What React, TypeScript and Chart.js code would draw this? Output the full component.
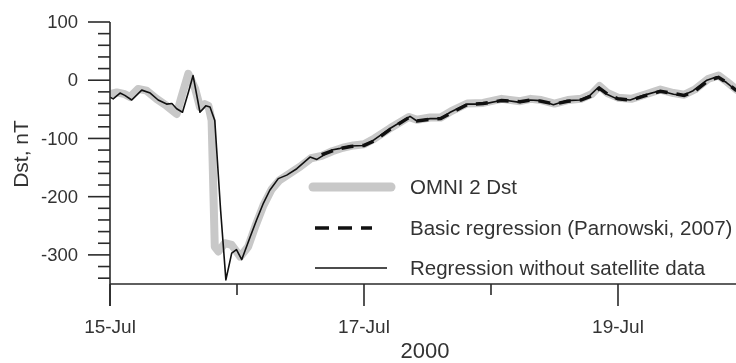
import React, { useEffect, useRef } from "react";
import { Chart, registerables } from "chart.js";

Chart.register(...registerables);

// Hours since 15-Jul-2000 00:00 and Dst values (nT)
const omniHours = [0, 1.3, 2.8, 3.8, 5.3, 6.9, 8.8, 10.7, 12.6, 13.5, 14.8, 16.1, 17, 17.9, 18.6, 19.2, 19.8, 20.5, 21.7, 23, 24.6, 26.1, 27.5, 29, 30.5, 32, 34, 36, 38, 40, 42, 44, 46, 48, 50, 53, 56.5, 58, 60.5, 62.5, 64.5, 67.5, 70.5, 74, 77.5, 79.5, 81.5, 84, 86.5, 89, 91, 92.5, 94, 96, 98.5, 101, 104, 106.5, 108.5, 110.5, 113, 115, 116.5, 118.4];
const omniDst = [-24, -21, -24, -29, -15, -18, -32, -44, -58, -29, 11, -15, -46, -41, -44, -69, -286, -294, -280, -283, -303, -286, -250, -215, -188, -172, -160, -148, -134, -130, -122, -116, -112, -110, -100, -82, -63, -68, -64, -64, -53, -40, -39, -32, -36, -32, -34, -40, -34, -32, -24, -10, -22, -30, -32, -25, -16, -22, -25, -16, 2, 8, -2, -16];

const basicHours = [40, 43, 45.5, 48, 50, 53, 56.5, 58, 60.5, 62.5, 64.5, 67.5, 70.5, 74, 77.5, 79.5, 81.5, 84, 86.5, 89, 91, 92.5, 94, 96, 98.5, 101, 104, 106.5, 108.5, 110.5, 113, 115, 116.5, 118.4];
const basicDst = [-128, -118, -114, -112, -104, -84, -64, -70, -67, -66, -56, -42, -40, -35, -37, -34, -36, -41, -36, -34, -27, -14, -24, -32, -34, -27, -19, -23, -26, -19, -1, 5, -4, -18];

const noSatHours = [0, 0.6, 1.9, 2.8, 4.1, 6, 7.6, 9.1, 10.7, 11.7, 12.6, 13.7, 14.8, 15.7, 17, 18.1, 18.9, 19.8, 20.9, 21.9, 23, 23.9, 24.9, 26.5, 27.7, 29, 30.2, 31.8, 33.4, 35.3, 37.8, 39.1, 40.3, 41.9, 43.5, 45.4, 47.9, 49.8, 52.9, 56.7, 58, 60.5, 62.4, 64.3, 67.4, 70.5, 74.3, 77.5, 79.4, 81.3, 83.8, 86.3, 88.8, 90.7, 92.3, 93.9, 95.8, 98.3, 100.8, 103.9, 106.5, 108.3, 110.2, 112.8, 114.7, 116.5, 118.4];
const noSatDst = [-29, -32, -22, -26, -34, -17, -22, -34, -41, -40, -49, -55, -21, 8, -55, -44, -46, -69, -223, -343, -297, -291, -308, -269, -240, -211, -189, -169, -163, -152, -132, -136, -129, -120, -117, -113, -112, -103, -83, -62, -70, -66, -66, -55, -41, -41, -34, -38, -34, -35, -42, -35, -34, -26, -12, -24, -32, -34, -26, -18, -24, -26, -18, 0, 6, -4, -18];

const seriesNames = ["OMNI 2 Dst", "Basic regression (Parnowski, 2007)", "Regression without satellite data"];

const xMajorTicks = [0, 48, 96];
const xMajorLabels = ["15-Jul", "17-Jul", "19-Jul"];
const xMinorTicks = [24, 72];
const yMajorTicks = [100, 0, -100, -200, -300];
const yMinorTicks = [80, 60, 40, 20, -20, -40, -60, -80, -120, -140, -160, -180, -220, -240, -260, -280, -320, -340];
const xTitle = "2000";
const yTitle = "Dst, nT";

const FONT = "'Liberation Sans', Arial, sans-serif";

const axesPlugin = {
  id: "axesAndLegend",
  afterDatasetsDraw(chart: any) {
    const ctx = chart.ctx as CanvasRenderingContext2D;
    const xs = chart.scales.x;
    const ys = chart.scales.y;
    const area = chart.chartArea;
    const axisColor = "#2a2a2a";
    const textColor = "#333";
    ctx.save();
    ctx.strokeStyle = axisColor;
    ctx.lineWidth = 1.6;
    ctx.lineCap = "butt";
    const x0 = xs.getPixelForValue(0);
    const yb = area.bottom;
    ctx.beginPath();
    ctx.moveTo(x0, ys.getPixelForValue(100));
    ctx.lineTo(x0, yb + 22);
    ctx.stroke();
    ctx.beginPath();
    ctx.moveTo(x0, yb);
    ctx.lineTo(area.right, yb);
    ctx.stroke();
    xMajorTicks.forEach((v) => {
      const px = xs.getPixelForValue(v);
      ctx.beginPath();
      ctx.moveTo(px, yb);
      ctx.lineTo(px, yb + 22);
      ctx.stroke();
    });
    xMinorTicks.forEach((v) => {
      const px = xs.getPixelForValue(v);
      ctx.beginPath();
      ctx.moveTo(px, yb);
      ctx.lineTo(px, yb + 11);
      ctx.stroke();
    });
    yMajorTicks.forEach((v) => {
      const py = ys.getPixelForValue(v);
      ctx.beginPath();
      ctx.moveTo(x0 - 22, py);
      ctx.lineTo(x0, py);
      ctx.stroke();
    });
    yMinorTicks.forEach((v) => {
      const py = ys.getPixelForValue(v);
      ctx.beginPath();
      ctx.moveTo(x0 - 12, py);
      ctx.lineTo(x0, py);
      ctx.stroke();
    });
    ctx.fillStyle = textColor;
    ctx.font = `18.5px ${FONT}`;
    ctx.textAlign = "right";
    ctx.textBaseline = "middle";
    yMajorTicks.forEach((v) => {
      ctx.fillText(String(v), 78, ys.getPixelForValue(v) + 1);
    });
    ctx.font = `19px ${FONT}`;
    ctx.textAlign = "center";
    xMajorTicks.forEach((v, i) => {
      ctx.fillText(xMajorLabels[i], xs.getPixelForValue(v), 328);
    });
    ctx.font = `22px ${FONT}`;
    ctx.fillText(xTitle, (area.left + area.right) / 2 + 2, 352);
    ctx.save();
    ctx.translate(22, 154);
    ctx.rotate(-Math.PI / 2);
    ctx.font = `21px ${FONT}`;
    ctx.fillText(yTitle, 0, 0);
    ctx.restore();

    const rows = [187, 228, 268];
    const samples = [
      [313, 391],
      [315, 372],
      [315, 387],
    ];
    chart.data.datasets.forEach((ds: any, i: number) => {
      ctx.save();
      ctx.strokeStyle = ds.borderColor;
      ctx.lineWidth = i === 0 ? 9 : ds.borderWidth;
      ctx.lineCap = i === 0 ? "round" : "butt";
      ctx.setLineDash(i === 1 ? [14, 9] : []);
      ctx.beginPath();
      ctx.moveTo(samples[i][0], rows[i]);
      ctx.lineTo(samples[i][1], rows[i]);
      ctx.stroke();
      ctx.restore();
      ctx.fillStyle = textColor;
      ctx.font = `20.5px ${FONT}`;
      ctx.textAlign = "left";
      ctx.textBaseline = "middle";
      ctx.fillText(ds.label, 410, rows[i] + 1);
    });
    ctx.restore();
  },
};

export default function App() {
  const ref = useRef<HTMLCanvasElement | null>(null);
  useEffect(() => {
    document.body.style.margin = "0";
    const canvas = ref.current;
    if (!canvas) return;
    const chart = new Chart(canvas, {
      type: "line",
      data: {
        datasets: [
          {
            label: seriesNames[0],
            data: omniHours.map((h, i) => ({ x: h, y: omniDst[i] })),
            borderColor: "#c8c8c8",
            borderWidth: 8,
            borderJoinStyle: "round",
            borderCapStyle: "round",
            pointRadius: 0,
            tension: 0,
            order: 3,
          },
          {
            label: seriesNames[1],
            data: basicHours.map((h, i) => ({ x: h, y: basicDst[i] })),
            borderColor: "#111",
            borderWidth: 3.5,
            borderDash: [12, 9],
            pointRadius: 0,
            tension: 0,
            order: 2,
          },
          {
            label: seriesNames[2],
            data: noSatHours.map((h, i) => ({ x: h, y: noSatDst[i] })),
            borderColor: "#111",
            borderWidth: 1.6,
            borderJoinStyle: "round",
            pointRadius: 0,
            tension: 0,
            order: 1,
          },
        ],
      },
      options: {
        responsive: false,
        animation: false,
        devicePixelRatio: 1,
        layout: { padding: { left: 110, top: 22, right: 0, bottom: 79 } },
        plugins: { legend: { display: false }, tooltip: { enabled: false } },
        scales: {
          x: { type: "linear", min: 0, max: 118.3, display: false },
          y: { type: "linear", min: -350, max: 100, display: false },
        },
      },
      plugins: [axesPlugin],
    } as any);
    return () => chart.destroy();
  }, []);
  return (
    <div style={{ position: "absolute", left: 0, top: 0, width: 736, height: 363, background: "#fff" }}>
      <canvas ref={ref} width={736} height={363} style={{ display: "block" }} />
    </div>
  );
}
